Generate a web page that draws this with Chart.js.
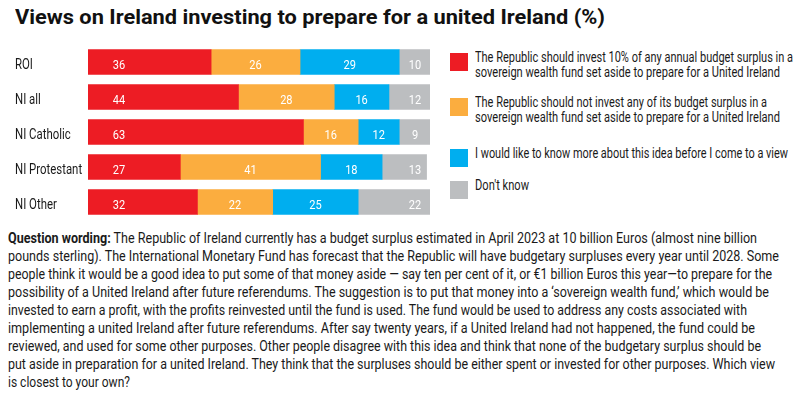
<!DOCTYPE html>
<html>
<head>
<meta charset="utf-8">
<script src="https://cdn.jsdelivr.net/npm/chart.js@4.4.0/dist/chart.umd.min.js"></script>
<style>
    html, body { margin: 0; padding: 0; background: #fff; }
    body { width: 800px; height: 397px; position: relative; overflow: hidden; color: #1a1a1a; font-family: Roboto, sans-serif; }
    .fit { display: inline-block; white-space: nowrap; transform-origin: 0 50%; }
    #title { position: absolute; left: 15px; top: 5px; font: bold 21px Roboto, sans-serif; color: #111; }
    #chartWrap { position: absolute; left: 0; top: 40px; width: 432px; height: 185px; }
    #legend { position: absolute; left: 450px; top: 0; width: 350px; font: 14px Roboto, sans-serif; line-height: 15px; color: #1a1a1a; }
    .item { position: absolute; left: 0; width: 345px; }
    .item .sw { position: absolute; left: 0; top: 0; width: 18px; height: 18px; }
    .item .txt { position: absolute; left: 25px; top: -3px; width: 325px; }
    .item .txt div { height: 15px; }
    #question { position: absolute; left: 8px; top: 229px; width: 790px; font: 15.5px Roboto, sans-serif; line-height: 18px; color: #1a1a1a; }
    #question > div { height: 18px; }
</style>
</head>
<body>
<div id="title"><span class="fit" data-w="590">Views on Ireland investing to prepare for a united Ireland (%)</span></div>
<div id="chartWrap"><canvas id="barChart" width="432" height="185"></canvas></div>
<div id="legend"></div>
<div id="question"></div>

<script>
(function () {

    var categories = ["ROI", "NI all", "NI Catholic", "NI Protestant", "NI Other"];

    var seriesNames = [
        ["The Republic should invest 10% of any annual budget surplus in a", "sovereign wealth fund set aside to prepare for a United Ireland"],
        ["The Republic should not invest any of its budget surplus in a", "sovereign wealth fund set aside to prepare for a United Ireland"],
        ["I would like to know more about this idea before I come to a view"],
        ["Don't know"]
    ];

    var investValues = [36, 44, 63, 27, 32];
    var notInvestValues = [26, 28, 16, 41, 22];
    var knowMoreValues = [29, 16, 12, 18, 25];
    var dontKnowValues = [10, 12, 9, 13, 22];

    var colors = ["#ED1C24", "#FBAD3F", "#00AEEF", "#BCBEC0"];

    var questionLines = [
        "<b>Question wording:</b> The Republic of Ireland currently has a budget surplus estimated in April 2023 at 10 billion Euros (almost nine billion",
        "pounds sterling). The International Monetary Fund has forecast that the Republic will have budgetary surpluses every year until 2028. Some",
        "people think it would be a good idea to put some of that money aside \u2014 say ten per cent of it, or \u20ac1 billion Euros this year\u2014to prepare for the",
        "possibility of a United Ireland after future referendums. The suggestion is to put that money into a \u2018sovereign wealth fund,\u2019 which would be",
        "invested to earn a profit, with the profits reinvested until the fund is used. The fund would be used to address any costs associated with",
        "implementing a united Ireland after future referendums. After say twenty years, if a United Ireland had not happened, the fund could be",
        "reviewed, and used for some other purposes. Other people disagree with this idea and think that none of the budgetary surplus should be",
        "put aside in preparation for a united Ireland. They think that the surpluses should be either spent or invested for other purposes. Which view",
        "is closest to your own?"
    ];

    // layout: right edge of each text line, legend item tops
    var questionRight = [757, 779, 772, 769, 747, 755, 761, 775, 130];
    var legendRight = [[793, 780], [767, 780], [788], [529]];
    var legendTops = [53, 98, 149, 181];

    var seriesValues = [investValues, notInvestValues, knowMoreValues, dontKnowValues];

    // category names, drawn narrow at the y scale's tick positions
    var categoryLabels = {
        id: 'categoryLabels',
        afterDraw: function (chart) {
            var ctx = chart.ctx;
            var yScale = chart.scales.y;
            ctx.save();
            ctx.fillStyle = "#1a1a1a";
            ctx.font = "15px Roboto, sans-serif";
            ctx.textAlign = "left";
            ctx.textBaseline = "alphabetic";
            chart.data.labels.forEach(function (label, i) {
                ctx.save();
                ctx.translate(yScale.left, yScale.getPixelForTick(i) + 7);
                ctx.scale(0.76, 1);
                ctx.fillText(label, 0, 0);
                ctx.restore();
            });
            ctx.restore();
        }
    };

    // segment values: first near the start, last near the right end, others centred
    var segmentLabels = {
        id: 'segmentLabels',
        afterDatasetsDraw: function (chart) {
            var ctx = chart.ctx;
            var area = chart.chartArea;
            ctx.save();
            ctx.fillStyle = "#fff";
            ctx.font = "13px Roboto, sans-serif";
            ctx.textAlign = "center";
            ctx.textBaseline = "alphabetic";
            chart.data.datasets.forEach(function (ds, i) {
                var meta = chart.getDatasetMeta(i);
                meta.data.forEach(function (bar, j) {
                    var x;
                    if (i === 0) {
                        x = bar.base + 31;
                    } else if (i === chart.data.datasets.length - 1) {
                        x = area.right - 15;
                    } else {
                        x = (bar.base + Math.min(bar.x, area.right)) / 2;
                    }
                    ctx.save();
                    ctx.translate(x, bar.y + 6.5);
                    ctx.scale(0.85, 1);
                    ctx.fillText(ds.data[j], 0, 0);
                    ctx.restore();
                });
            });
            ctx.restore();
        }
    };

    function line(html, width) {
        return '<div><span class="fit" data-w="' + width + '">' + html + '</span></div>';
    }

    function buildLegend() {
        var html = "";
        for (var i = 0; i < seriesNames.length; i++) {
            var txt = "";
            for (var k = 0; k < seriesNames[i].length; k++) {
                txt += line(seriesNames[i][k], legendRight[i][k] - 475);
            }
            html += '<div class="item" style="top:' + legendTops[i] + 'px"><div class="sw" style="background:' + colors[i] + '"></div><div class="txt">' + txt + '</div></div>';
        }
        document.getElementById("legend").innerHTML = html;
    }

    function buildQuestion() {
        var html = "";
        for (var i = 0; i < questionLines.length; i++) {
            html += line(questionLines[i], questionRight[i] - 8);
        }
        document.getElementById("question").innerHTML = html;
    }

    function fitAll() {
        var spans = document.querySelectorAll(".fit");
        for (var i = 0; i < spans.length; i++) {
            var w = spans[i].getBoundingClientRect().width;
            var target = parseFloat(spans[i].getAttribute("data-w"));
            spans[i].style.transform = "scaleX(" + (target / w).toFixed(4) + ")";
        }
    }

    function initializeChart() {
        var datasets = [];
        for (var i = 0; i < seriesValues.length; i++) {
            datasets.push({
                label: seriesNames[i].join(" "),
                data: seriesValues[i],
                backgroundColor: colors[i],
                borderWidth: 0,
                barThickness: 25
            });
        }
        new Chart(document.getElementById("barChart").getContext("2d"), {
            type: "bar",
            data: { labels: categories, datasets: datasets },
            plugins: [segmentLabels, categoryLabels],
            options: {
                indexAxis: "y",
                responsive: false,
                animation: false,
                devicePixelRatio: 1,
                layout: { padding: { left: 15, right: 2, top: 4.5, bottom: 5.5 } },
                plugins: { legend: { display: false }, tooltip: { enabled: false } },
                scales: {
                    x: { stacked: true, min: 0, max: 100, display: false },
                    y: {
                        stacked: true,
                        grid: { display: false },
                        border: { display: false },
                        ticks: { display: false },
                        afterFit: function (scale) { scale.width = 73; }
                    }
                }
            }
        });
    }

    buildLegend();
    buildQuestion();
    fitAll();
    initializeChart();

})();
</script>
</body>
</html>
